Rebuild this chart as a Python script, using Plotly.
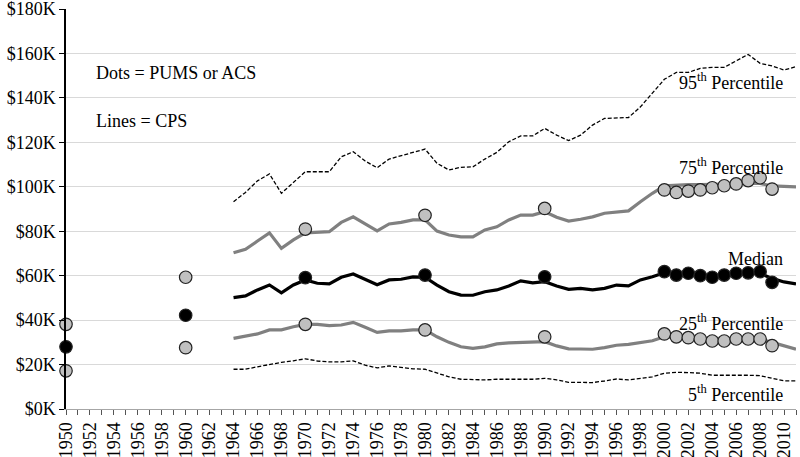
import plotly.graph_objects as go

years = list(range(1964, 2012))

p95 = [93.3, 97.5, 102.7, 105.8, 97.1, 102.0, 106.8, 106.8, 106.8, 113.5, 115.8, 111.6, 108.6, 112.5, 114.0, 115.8,
       117.0, 110.6, 107.6, 108.8, 109.0, 112.5, 115.5, 120.3, 122.9, 122.9, 126.3, 123.3, 120.8, 123.3, 127.8, 130.8,
       131.1, 131.2, 136.0, 142.1, 148.4, 151.5, 151.5, 153.3, 153.8, 153.8, 156.8, 159.6, 155.6, 154.4, 152.6, 154.1]
p75 = [70.3, 71.9, 75.6, 79.3, 72.3, 76.1, 79.3, 79.5, 79.8, 84.0, 86.5, 83.3, 80.2, 83.3, 84.0, 85.1,
       85.1, 80.1, 78.3, 77.5, 77.5, 80.6, 82.0, 85.1, 87.3, 87.3, 88.8, 86.3, 84.6, 85.4, 86.5, 88.1,
       88.8, 89.2, 93.3, 97.1, 100.4, 100.8, 101.0, 101.0, 101.0, 101.2, 101.3, 101.5, 101.5, 100.4, 100.2, 100.0]
p50 = [50.1, 50.9, 53.6, 55.8, 52.3, 55.8, 58.1, 56.6, 56.3, 59.3, 60.8, 58.4, 55.9, 58.1, 58.4, 59.5,
       59.3, 55.8, 52.8, 51.3, 51.2, 52.8, 53.6, 55.4, 57.7, 56.8, 57.3, 55.4, 53.9, 54.3, 53.6, 54.3,
       55.8, 55.4, 58.1, 59.5, 61.3, 61.0, 60.8, 60.4, 60.0, 60.2, 60.6, 61.0, 61.0, 58.8, 57.2, 56.3]
p25 = [31.8, 32.9, 33.8, 35.6, 35.6, 37.0, 38.1, 38.1, 37.5, 37.8, 39.0, 36.8, 34.5, 35.2, 35.2, 35.6,
       35.6, 32.5, 30.0, 28.0, 27.3, 28.0, 29.3, 29.8, 30.0, 30.0, 30.3, 28.4, 27.1, 27.0, 26.9, 27.6,
       28.7, 29.1, 30.0, 30.7, 32.5, 32.5, 32.3, 32.0, 31.8, 31.7, 31.8, 31.8, 31.5, 30.0, 28.4, 26.9]
p05 = [17.9, 17.9, 19.0, 20.1, 21.0, 21.7, 22.6, 21.6, 21.2, 21.2, 21.7, 19.7, 18.5, 19.4, 18.6, 18.1,
       17.9, 16.1, 14.5, 13.4, 13.1, 13.1, 13.4, 13.4, 13.1, 13.4, 13.8, 13.1, 12.0, 12.0, 11.9, 12.6,
       13.5, 13.1, 13.7, 14.5, 16.1, 16.5, 16.4, 16.1, 15.2, 15.2, 15.4, 15.2, 15.0, 13.8, 12.7, 12.7]

dot_years = [1950, 1960, 1970, 1980, 1990, 2000, 2001, 2002, 2003, 2004, 2005, 2006, 2007, 2008, 2009]
dot75 = [38.1, 59.3, 81.0, 87.2, 90.3, 98.6, 97.5, 98.1, 98.6, 99.6, 100.5, 101.3, 102.8, 104.1, 99.0]
dot50 = [28.0, 42.2, 59.1, 60.3, 59.5, 61.8, 60.3, 61.1, 60.0, 59.3, 60.3, 61.1, 61.3, 61.8, 57.0]
dot25 = [17.2, 27.6, 38.1, 35.6, 32.5, 33.8, 32.5, 32.1, 31.5, 30.6, 30.6, 31.5, 31.5, 31.5, 28.5]

x_tick_years = list(range(1950, 2011, 2))
y_ticks = list(range(0, 181, 20))

FONT = "Liberation Serif, Times New Roman, serif"
GREY = "#808080"
DOTFILL = "#c0c0c0"

fig = go.Figure()

fig.add_trace(go.Scatter(x=years, y=p95, mode="lines",
                         line=dict(color="black", width=1.3, dash="4px,2px")))
fig.add_trace(go.Scatter(x=years, y=p05, mode="lines",
                         line=dict(color="black", width=1.3, dash="4px,2px")))
fig.add_trace(go.Scatter(x=years, y=p75, mode="lines",
                         line=dict(color=GREY, width=3.2)))
fig.add_trace(go.Scatter(x=years, y=p25, mode="lines",
                         line=dict(color=GREY, width=3.2)))
fig.add_trace(go.Scatter(x=years, y=p50, mode="lines",
                         line=dict(color="black", width=3.2)))

for vals, fill in [(dot75, DOTFILL), (dot25, DOTFILL), (dot50, "black")]:
    fig.add_trace(go.Scatter(x=dot_years, y=vals, mode="markers",
                             marker=dict(size=12.5, color=fill,
                                         line=dict(color="#222222", width=1.2)),
                             cliponaxis=False))

ann_font = dict(family=FONT, size=18, color="black")
labels = [
    ("95<sup>th</sup> Percentile", 147.3),
    ("75<sup>th</sup> Percentile", 109.0),
    ("Median", 67.6),
    ("25<sup>th</sup> Percentile", 39.0),
    ("5<sup>th</sup> Percentile", 6.8),
]
for txt, yv in labels:
    fig.add_annotation(x=2010.1, y=yv, text=txt, showarrow=False,
                       xanchor="right", yanchor="middle", font=ann_font)

fig.add_annotation(x=0.039, y=151.2, xref="paper", text="Dots = PUMS or ACS", showarrow=False,
                   xanchor="left", yanchor="middle", font=ann_font)
fig.add_annotation(x=0.039, y=129.6, xref="paper", text="Lines = CPS", showarrow=False,
                   xanchor="left", yanchor="middle", font=ann_font)

fig.update_layout(
    width=800, height=457,
    margin=dict(l=66, r=4, t=9, b=48),
    paper_bgcolor="white", plot_bgcolor="white",
    showlegend=False,
    font=dict(family=FONT, size=17, color="black"),
)
fig.update_xaxes(
    range=[1950, 2011], automargin=False, ticklabeloverflow="allow",
    tickmode="array", tickvals=x_tick_years, ticktext=[str(y) for y in x_tick_years],
    tickangle=-90, ticks="outside", ticklen=5, tickcolor="#555555",
    minor=dict(dtick=1, ticks="outside", ticklen=5, tickcolor="#555555", showgrid=False),
    showline=True, linecolor="#a6a6a6", linewidth=1,
    showgrid=False, zeroline=False,
    tickfont=dict(family=FONT, size=18, color="black"),
)
fig.update_yaxes(
    range=[0, 180.05], automargin=False, ticklabeloverflow="allow",
    tickmode="array", tickvals=y_ticks, ticktext=[f"${v}K" for v in y_ticks],
    ticks="outside", ticklen=5, tickcolor="black",
    showline=True, linecolor="black", linewidth=1.5,
    showgrid=True, gridcolor="#d9d9d9", gridwidth=1,
    zeroline=False,
    tickfont=dict(family=FONT, size=18, color="black"),
)

fig.write_html("out.html", config={"displayModeBar": False},
               post_script="document.body.style.margin='0';document.body.style.padding='0';")
